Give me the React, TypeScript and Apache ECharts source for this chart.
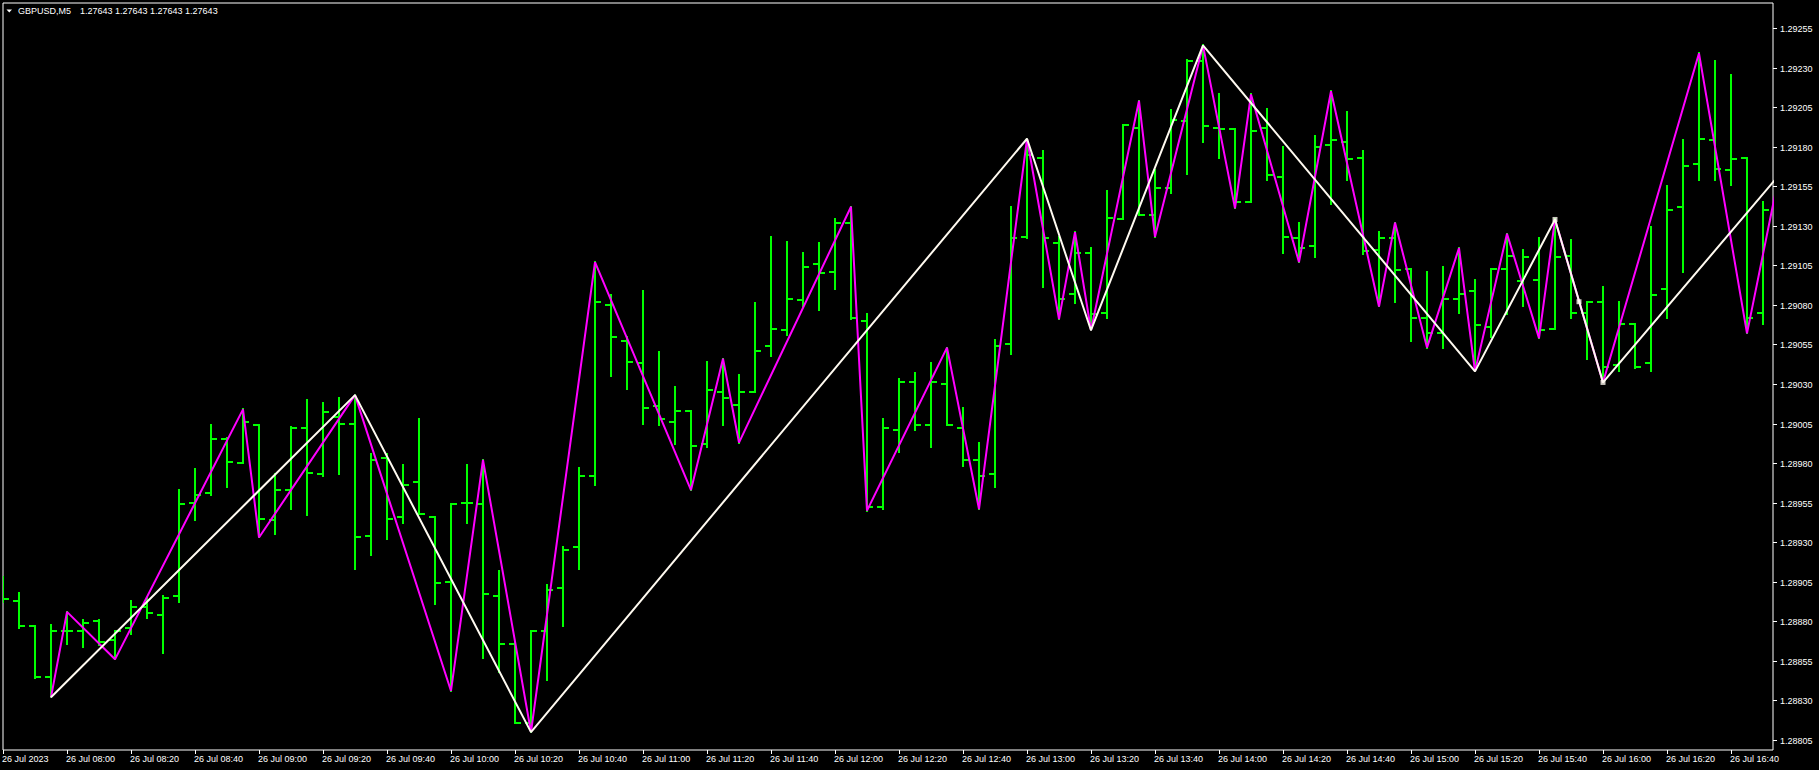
import React, { useEffect, useRef } from 'react';
import * as echarts from 'echarts';

const TITLE_SYMBOL = 'GBPUSD,M5';
const TITLE_PRICES = '1.27643 1.27643 1.27643 1.27643';

const LABEL_STEP = 4; // bars between time labels (M5, 20 minutes)
const TIME_LABELS = [
  '26 Jul 2023', '26 Jul 08:00', '26 Jul 08:20', '26 Jul 08:40', '26 Jul 09:00', '26 Jul 09:20',
  '26 Jul 09:40', '26 Jul 10:00', '26 Jul 10:20', '26 Jul 10:40', '26 Jul 11:00', '26 Jul 11:20',
  '26 Jul 11:40', '26 Jul 12:00', '26 Jul 12:20', '26 Jul 12:40', '26 Jul 13:00', '26 Jul 13:20',
  '26 Jul 13:40', '26 Jul 14:00', '26 Jul 14:20', '26 Jul 14:40', '26 Jul 15:00', '26 Jul 15:20',
  '26 Jul 15:40', '26 Jul 16:00', '26 Jul 16:20', '26 Jul 16:40',
];

const PRICE_TICKS = [
  1.28805, 1.2883, 1.28855, 1.2888, 1.28905, 1.2893, 1.28955, 1.2898, 1.29005, 1.2903,
  1.29055, 1.2908, 1.29105, 1.2913, 1.29155, 1.2918, 1.29205, 1.2923, 1.29255,
];

const OPEN = [
  1.28896, 1.28893, 1.28877, 1.28845, 1.28874, 1.28874, 1.2888, 1.28868, 1.28876, 1.28889,
  1.28884, 1.28896, 1.28955, 1.28961, 1.28995, 1.2898, 1.29004, 1.28944, 1.28963, 1.29002,
  1.28973, 1.29009, 1.29005, 1.28934, 1.28983, 1.28946, 1.28968, 1.28946, 1.28905, 1.28955,
  1.28954, 1.28896, 1.28866, 1.28816, 1.28874, 1.28901, 1.28927, 1.28972, 1.2908, 1.29057,
  1.29043, 1.29016, 1.29006, 1.29013, 1.28992, 1.29025, 1.29017, 1.29025, 1.29054, 1.29064,
  1.29083, 1.29106, 1.29101, 1.29132, 1.2907, 1.28952, 1.29001, 1.29031, 1.29004, 1.2903,
  1.29002, 1.28982, 1.28973, 1.29055, 1.29123, 1.29173, 1.29119, 1.29087, 1.29113, 1.29075,
  1.29134, 1.29192, 1.29137, 1.29154, 1.29196, 1.29234, 1.29192, 1.29191, 1.29145, 1.29192,
  1.29161, 1.29122, 1.29117, 1.29181, 1.29183, 1.29173, 1.29115, 1.29122, 1.29103, 1.29072,
  1.29062, 1.29084, 1.29089, 1.29066, 1.29103, 1.29095, 1.29096, 1.29065, 1.29111, 1.29075,
  1.29082, 1.29042, 1.29068, 1.29043, 1.2909, 1.29142, 1.29169, 1.29184, 1.29165, 1.29173,
  1.29075,
];
const HIGH = [
  1.28908, 1.28898, 1.28877, 1.28878, 1.28886, 1.28881, 1.28881, 1.28874, 1.28893, 1.28895,
  1.28896, 1.28963, 1.28976, 1.29004, 1.28996, 1.29014, 1.29004, 1.28973, 1.29003, 1.2902,
  1.29018, 1.29021, 1.29023, 1.28986, 1.28986, 1.28979, 1.29008, 1.28946, 1.28954, 1.28979,
  1.28982, 1.28912, 1.28867, 1.28874, 1.28903, 1.28927, 1.28977, 1.29107, 1.29086, 1.2906,
  1.29089, 1.2905, 1.29028, 1.29013, 1.29044, 1.29046, 1.29036, 1.29081, 1.29123, 1.2912,
  1.29113, 1.29119, 1.29134, 1.29142, 1.29074, 1.29008, 1.29033, 1.29037, 1.29043, 1.29053,
  1.29015, 1.28993, 1.29058, 1.29142, 1.29185, 1.29177, 1.29123, 1.29126, 1.29116, 1.29152,
  1.29194, 1.29209, 1.29165, 1.29203, 1.29235, 1.29244, 1.29213, 1.29191, 1.29213, 1.29204,
  1.2918, 1.29132, 1.29187, 1.29215, 1.29202, 1.29177, 1.29126, 1.29132, 1.29103, 1.29101,
  1.29104, 1.29116, 1.29096, 1.29103, 1.29125, 1.29115, 1.29122, 1.29134, 1.29121, 1.29082,
  1.29091, 1.29082, 1.29068, 1.29129, 1.29155, 1.29184, 1.29239, 1.29234, 1.29225, 1.29173,
  1.29145,
];
const LOW = [
  1.28892, 1.28876, 1.28844, 1.28832, 1.28866, 1.28864, 1.28865, 1.28856, 1.28872, 1.28882,
  1.2886, 1.28892, 1.28944, 1.2896, 1.28965, 1.2898, 1.28933, 1.28935, 1.28951, 1.28947,
  1.28972, 1.28973, 1.28913, 1.28922, 1.28932, 1.28942, 1.28948, 1.28891, 1.28836, 1.28942,
  1.28857, 1.28848, 1.28816, 1.2881, 1.28843, 1.28877, 1.28913, 1.28966, 1.29035, 1.29027,
  1.29005, 1.29004, 1.28992, 1.28963, 1.2899, 1.29004, 1.28993, 1.29025, 1.29048, 1.29061,
  1.29079, 1.29077, 1.2909, 1.29071, 1.2895, 1.28951, 1.28987, 1.29001, 1.2899, 1.29004,
  1.28978, 1.28951, 1.28965, 1.29049, 1.29122, 1.29091, 1.29071, 1.29081, 1.29064, 1.29072,
  1.29134, 1.29137, 1.29123, 1.29151, 1.29163, 1.29183, 1.29173, 1.29141, 1.29145, 1.29159,
  1.29113, 1.29107, 1.2911, 1.29144, 1.29159, 1.29112, 1.29079, 1.29082, 1.29057, 1.29053,
  1.29053, 1.29075, 1.29038, 1.2906, 1.29074, 1.29079, 1.29059, 1.29065, 1.29072, 1.29046,
  1.29031, 1.29038, 1.2904, 1.29038, 1.29072, 1.29101, 1.29159, 1.29159, 1.29156, 1.29062,
  1.29068,
];
const CLOSE = [
  1.28894, 1.28877, 1.28845, 1.28874, 1.28874, 1.28879, 1.28867, 1.28874, 1.28889, 1.28885,
  1.28895, 1.28954, 1.2896, 1.28995, 1.28981, 1.29006, 1.28945, 1.28963, 1.29002, 1.28974,
  1.29012, 1.29005, 1.28933, 1.28982, 1.28945, 1.28966, 1.28948, 1.28904, 1.28954, 1.28955,
  1.28897, 1.28866, 1.28816, 1.28874, 1.289, 1.28925, 1.28972, 1.29082, 1.2906, 1.29044,
  1.29015, 1.29008, 1.29013, 1.28991, 1.29026, 1.29021, 1.29025, 1.29051, 1.29065, 1.29084,
  1.29104, 1.291, 1.29132, 1.29072, 1.28952, 1.29002, 1.29031, 1.29004, 1.29031, 1.29004,
  1.28982, 1.28972, 1.29054, 1.29122, 1.29175, 1.29122, 1.29084, 1.29113, 1.29074, 1.29135,
  1.29194, 1.29137, 1.29154, 1.29197, 1.29234, 1.29193, 1.29191, 1.29145, 1.2919, 1.29162,
  1.29123, 1.29116, 1.2918, 1.29184, 1.29172, 1.29114, 1.29122, 1.29102, 1.29072, 1.29062,
  1.29084, 1.29087, 1.29067, 1.29103, 1.29111, 1.2911, 1.29064, 1.2911, 1.29075, 1.29082,
  1.29041, 1.29068, 1.29041, 1.29086, 1.2914, 1.29168, 1.29185, 1.29166, 1.29172, 1.29072,
  1.2914,
];

// ZigZag turning points: [bar index, price]
const ZIGZAG_FAST = [
  [3, 1.28832], [4, 1.28886], [7, 1.28856], [15, 1.29014], [16, 1.28933], [22, 1.29023],
  [28, 1.28836], [30, 1.28982], [33, 1.2881], [37, 1.29107], [43, 1.28963], [45, 1.29046],
  [46, 1.28993], [53, 1.29142], [54, 1.2895], [59, 1.29053], [61, 1.28951], [64, 1.29185],
  [66, 1.29071], [67, 1.29126], [68, 1.29064], [71, 1.29209], [72, 1.29123], [75, 1.29244],
  [77, 1.29141], [78, 1.29213], [81, 1.29107], [83, 1.29215], [86, 1.29079], [87, 1.29132],
  [89, 1.29053], [91, 1.29116], [92, 1.29038], [94, 1.29125], [96, 1.29059], [97, 1.29134],
  [100, 1.29031], [106, 1.29239], [109, 1.29062], [111, 1.29162],
];
const ZIGZAG_SLOW = [
  [3, 1.28832], [22, 1.29023], [33, 1.2881], [64, 1.29185], [68, 1.29064], [75, 1.29244],
  [92, 1.29038], [97, 1.29134], [100, 1.29031], [111, 1.29162],
];
const SLOW_MARKERS = [[97, 1.29134], [98.5, 1.29082], [100, 1.29031]];

const BAR_GREEN = '#00ff00';
const FAST_COLOR = '#ff00ff';
const SLOW_COLOR = '#fffaf0';
const FONT = '"Liberation Sans", Arial, sans-serif';

// visible window of the chart
const X_MIN = 0;
const X_MAX = 110.625;
const Y_MIN = 1.287987;
const Y_MAX = 1.292708;

export default function App() {
  const ref = useRef<HTMLDivElement>(null);

  useEffect(() => {
    if (!ref.current) return;
    const chart = echarts.init(ref.current, undefined, { renderer: 'svg' });

    const barData = OPEN.map((o, i) => [i, o, HIGH[i], LOW[i], CLOSE[i]]);
    const xTickData = TIME_LABELS.map((_, k) => [k * LABEL_STEP, Y_MIN]);
    const yTickData = PRICE_TICKS.map((p) => [X_MIN, p]);

    const option: any = {
      animation: false,
      backgroundColor: '#000000',
      grid: {
        left: 3,
        top: 3,
        width: 1770,
        height: 747,
        show: true,
        borderColor: '#ffffff',
        borderWidth: 1,
        backgroundColor: 'transparent',
      },
      xAxis: {
        type: 'value',
        min: X_MIN,
        max: X_MAX,
        show: false,
        splitLine: { show: false },
      },
      yAxis: {
        type: 'value',
        min: Y_MIN,
        max: Y_MAX,
        show: false,
        scale: true,
        splitLine: { show: false },
      },
      graphic: [
        {
          type: 'polygon',
          shape: { points: [[6.5, 9.5], [12, 9.5], [9.25, 12.5]] },
          style: { fill: '#ffffff' },
          z: 100,
        },
        {
          type: 'text',
          x: 18,
          y: 11,
          style: { text: TITLE_SYMBOL, fill: '#ffffff', fontSize: 9, fontFamily: FONT, verticalAlign: 'middle' },
          z: 100,
        },
        {
          type: 'text',
          x: 80,
          y: 11,
          style: { text: TITLE_PRICES, fill: '#ffffff', fontSize: 9, fontFamily: FONT, verticalAlign: 'middle' },
          z: 100,
        },
      ],
      series: [
        {
          type: 'custom',
          name: 'bars',
          silent: true,
          clip: true,
          data: barData,
          encode: { x: 0, y: [1, 2, 3, 4] },
          z: 2,
          renderItem: (params: any, api: any) => {
            const i = api.value(0);
            const pO = api.coord([i, api.value(1)]);
            const pH = api.coord([i, api.value(2)]);
            const pL = api.coord([i, api.value(3)]);
            const pC = api.coord([i, api.value(4)]);
            const x = Math.round(pH[0]);
            const yO = Math.round(pO[1]);
            const yC = Math.round(pC[1]);
            const style = { stroke: BAR_GREEN, lineWidth: 2 };
            return {
              type: 'group',
              children: [
                { type: 'line', shape: { x1: x, y1: Math.round(pH[1]) - 1, x2: x, y2: Math.round(pL[1]) + 1 }, style },
                { type: 'line', shape: { x1: x - 6, y1: yO, x2: x, y2: yO }, style },
                { type: 'line', shape: { x1: x, y1: yC, x2: x + 6, y2: yC }, style },
              ],
            };
          },
        },
        {
          type: 'line',
          name: 'zigzag fast',
          silent: true,
          data: ZIGZAG_FAST,
          symbol: 'none',
          showSymbol: false,
          lineStyle: { color: FAST_COLOR, width: 2 },
          z: 3,
        },
        {
          type: 'line',
          name: 'zigzag slow',
          silent: true,
          data: ZIGZAG_SLOW,
          symbol: 'none',
          showSymbol: false,
          lineStyle: { color: SLOW_COLOR, width: 2 },
          z: 4,
        },
        {
          type: 'scatter',
          name: 'markers',
          silent: true,
          data: SLOW_MARKERS,
          symbol: 'rect',
          symbolSize: 5,
          itemStyle: { color: SLOW_COLOR },
          z: 5,
        },
        {
          type: 'custom',
          name: 'time axis',
          silent: true,
          clip: false,
          data: xTickData,
          encode: { x: 0, y: 1 },
          z: 6,
          renderItem: (params: any, api: any) => {
            const cs = params.coordSys;
            const x = Math.round(api.coord([api.value(0), Y_MIN])[0]);
            const bottom = cs.y + cs.height;
            return {
              type: 'group',
              children: [
                { type: 'line', shape: { x1: x + 0.5, y1: bottom, x2: x + 0.5, y2: bottom + 4 }, style: { stroke: '#ffffff', lineWidth: 1 } },
                {
                  type: 'text',
                  x: x - 1,
                  y: bottom + 9,
                  style: {
                    text: TIME_LABELS[params.dataIndex],
                    fill: '#ffffff',
                    fontSize: 9,
                    fontFamily: FONT,
                    align: 'left',
                    verticalAlign: 'middle',
                  },
                },
              ],
            };
          },
        },
        {
          type: 'custom',
          name: 'price axis',
          silent: true,
          clip: false,
          data: yTickData,
          encode: { x: 0, y: 1 },
          z: 6,
          renderItem: (params: any, api: any) => {
            const cs = params.coordSys;
            const price = api.value(1);
            const y = Math.round(api.coord([X_MIN, price])[1]);
            const right = cs.x + cs.width;
            return {
              type: 'group',
              children: [
                { type: 'line', shape: { x1: right, y1: y + 0.5, x2: right + 4, y2: y + 0.5 }, style: { stroke: '#ffffff', lineWidth: 1 } },
                {
                  type: 'text',
                  x: right + 7,
                  y: y + 0.5,
                  style: {
                    text: price.toFixed(5),
                    fill: '#ffffff',
                    fontSize: 9,
                    fontFamily: FONT,
                    align: 'left',
                    verticalAlign: 'middle',
                  },
                },
              ],
            };
          },
        },
      ],
    };

    chart.setOption(option);
    return () => {
      chart.dispose();
    };
  }, []);

  return (
    <div
      ref={ref}
      style={{ position: 'fixed', left: 0, top: 0, width: 1819, height: 770, background: '#000' }}
    />
  );
}
